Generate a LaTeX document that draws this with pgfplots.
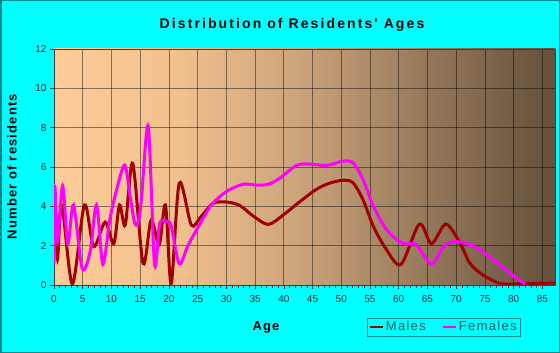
\documentclass[border=0pt]{standalone}
\usepackage{fontspec}
\setmainfont{Liberation Sans}
\newfontfamily\titlefont[LetterSpace=15]{Liberation Sans}
\newfontfamily\labfont[LetterSpace=9]{Liberation Sans}
\newfontfamily\legfont[LetterSpace=10]{Liberation Sans}
\usepackage{pgfplots}
\pgfplotsset{compat=1.18}
\definecolor{bgcyan}{HTML}{00FFFF}
\definecolor{frame}{HTML}{008B8B}
\definecolor{tickcol}{HTML}{102E2E}
\definecolor{legtext}{HTML}{005A5A}
\definecolor{malecol}{HTML}{A00000}
\definecolor{femalecol}{HTML}{FF00FF}
\definecolor{c0}{RGB}{254,204,153}
\definecolor{c1}{RGB}{240,192,142}
\definecolor{c2}{RGB}{202,162,122}
\definecolor{c3}{RGB}{148,119,90}
\definecolor{c4}{RGB}{100,80,60}
\pgfdeclarehorizontalshading{bgshade}{100bp}{color(0bp)=(c0); color(25bp)=(c0); color(37.5bp)=(c1); color(50bp)=(c2); color(62.5bp)=(c3); color(75bp)=(c4); color(100bp)=(c4)}
\begin{document}
\begin{tikzpicture}
\fill[bgcyan] (0,0) rectangle (560bp,353bp);
\draw[frame, line width=1.5bp] (0.75bp,0.75bp) rectangle (559.25bp,352.25bp);
\begin{axis}[
  at={(54bp,68bp)}, anchor=south west,
  scale only axis, width=501bp, height=236bp,
  xmin=0, xmax=87.2, ymin=0, ymax=12,
  xtick={0,5,...,85}, minor x tick num=4,
  ytick={0,2,...,12},
  tick align=outside,
  major tick length=4bp, minor tick length=3bp,
  tick style={draw=black!80, line width=0.6bp},
  xtick pos=bottom, ytick pos=left,
  xmajorgrids, ymajorgrids,
  grid style={draw=black, opacity=0.45, line width=0.8bp},
  axis line style={draw=black!75, line width=0.8bp},
  axis background/.style={shade, shading=bgshade},
  /pgf/number format/assume math mode=true,
  ticklabel style={font=\fontsize{10bp}{12bp}\selectfont, text=tickcol},
  xticklabel style={yshift=-3bp},
  legend style={at={(0.6248,-0.216)}, anchor=south west, draw=frame, fill=bgcyan,
    font=\legfont\fontsize{13bp}{15bp}\selectfont, text=legtext,
    inner sep=1.5bp, /tikz/every even column/.append style={column sep=14bp}},
  legend columns=2,
  legend image code/.code={\draw[#1, line width=2.2bp] (0bp,0bp) -- (13bp,0bp);},
]
\addplot[malecol, line width=3bp, smooth, tension=0.5] coordinates {
(0,3.0) (0.25,4.0) (0.6,1.3) (1.35,4.07) (3.2,0.05) (5.3,4.07) (6.9,1.95) (8.9,3.2)
(10.4,2.1) (11.4,4.07) (12.4,3.05) (13.7,6.18) (15.5,1.1) (16.9,3.3) (18.3,2.05)
(19.4,4.07) (20.4,0.08) (21.8,5.18) (23.9,3.05) (25.5,3.45) (27.7,4.15) (30,4.22)
(32.3,4.05) (34.7,3.5) (37.3,3.08) (39.9,3.56) (42.8,4.24) (45.7,4.87) (48,5.18)
(50.5,5.33) (52.1,5.18) (53.8,4.33) (55.6,2.97) (57.9,1.78) (60.4,1.05) (63.6,3.1)
(65.7,2.1) (68.2,3.1) (70.7,2.12) (72.4,1.1) (74.7,0.5) (77.6,0.08) (80,0.05) (87.2,0.1)
};
\addlegendentry{Males}
\addplot[femalecol, line width=3bp, smooth, tension=0.5] coordinates {
(0,1.1) (0.15,5.0) (0.6,2.2) (1.5,5.05) (2.4,2.1) (3.4,4.07) (4.9,0.85) (6.3,1.7)
(7.4,4.07) (8.5,1.05) (9.7,3.3) (10.9,4.84) (12.3,6.1) (13.2,4.6) (14.0,3.2)
(14.6,3.15) (15.2,4.3) (16.4,8.07) (17.5,1.05) (18.4,3.14) (19.6,3.22) (20.4,3.0) (21.8,1.08)
(23.3,2.0) (25.3,3.05) (27.5,4.1) (30,4.75) (32.9,5.12) (35.3,5.08) (37.3,5.12)
(39.3,5.43) (42.2,6.08) (44.5,6.15) (47.5,6.08) (50.3,6.3) (52.1,6.2) (53.8,5.35)
(55.6,4.0) (57.9,2.8) (60.2,2.2) (61.5,2.08) (63.1,2.04) (65.7,1.07) (67.8,1.95)
(69.5,2.2) (71.8,2.12) (74.2,1.78) (77.6,1.02) (80,0.46) (82,0.05)
};
\addlegendentry{Females}
\end{axis}
\node[font=\titlefont\bfseries\fontsize{14bp}{16bp}\selectfont] at (292bp,328bp) {Distribution of Residents' Ages};
\node[font=\labfont\bfseries\fontsize{13bp}{15bp}\selectfont, rotate=90] at (12bp,186.5bp) {Number of residents};
\node[font=\labfont\bfseries\fontsize{13bp}{15bp}\selectfont] at (266bp,26bp) {Age};
\end{tikzpicture}
\end{document}
